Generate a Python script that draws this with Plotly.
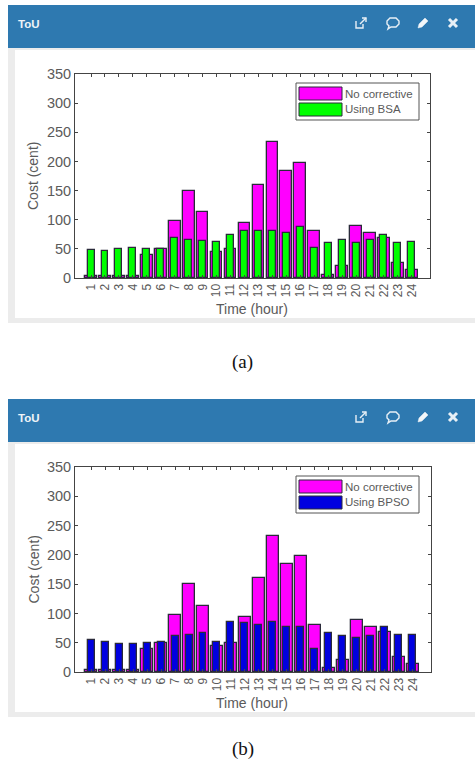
import plotly.graph_objects as go

hours = list(range(1, 25))
no_corrective = [3, 3, 3, 3, 39, 50, 97, 150, 113, 45, 50, 94, 160, 233, 184, 198, 81, 6, 20, 89, 77, 68, 25, 14]
using_bsa = [48, 47, 49, 52, 50, 50, 69, 65, 64, 61, 73, 80, 80, 81, 77, 88, 52, 60, 65, 60, 66, 73, 60, 62]
using_bpso = [54, 52, 48, 48, 50, 52, 62, 64, 66, 52, 85, 83, 80, 86, 77, 76, 40, 66, 62, 58, 61, 76, 63, 64]
y_ticks = [0, 50, 100, 150, 200, 250, 300, 350]

W, H = 475, 773
FONT = "Liberation Sans"
GREY = "#5a5a5a"
DARK = "#2a2a3a"
HEADER = "#2e79b0"
MAGENTA = "#ff00ff"
GREEN = "#00ff00"
BLUE = "#0000e0"


def px(x):
    return x / W


def py(y):
    return 1 - y / H


def rect(x0, y0, x1, y1, fill, line=None, lw=0):
    return dict(type="rect", xref="paper", yref="paper", x0=px(x0), x1=px(x1), y0=py(y1), y1=py(y0),
                fillcolor=fill, line=dict(color=line or fill, width=lw), layer="below")


def path(points, x0, y0, fill="rgba(0,0,0,0)", line="#e8f0f6", lw=1.4, close=True):
    d = "M" + " L".join(f"{px(x0 + a):.5f},{py(y0 + b):.5f}" for a, b in points) + (" Z" if close else "")
    return dict(type="path", xref="paper", yref="paper", path=d, fillcolor=fill,
                line=dict(color=line, width=lw), layer="above")


def note(x, y, text, size=11, color=GREY, family=FONT, anchor="left", angle=0):
    return dict(xref="paper", yref="paper", x=px(x), y=py(y), text=text, showarrow=False, xanchor=anchor,
                yanchor="middle", textangle=angle, font=dict(family=family, size=size, color=color))


fig = go.Figure()
panels = [
    dict(top=5, hdr=48, bottom=323, y350=74, y0=278, right=430, series=using_bsa, name="Using BSA", color=GREEN,
         caption="(a)", cap_y=362, ax=""),
    dict(top=399, hdr=442, bottom=717, y350=467, y0=672, right=431, series=using_bpso, name="Using BPSO", color=BLUE,
         caption="(b)", cap_y=749, ax="2"),
]
shapes, annotations = [], []
for i, p in enumerate(panels):
    ax = p["ax"]
    xa, ya = f"x{ax}", f"y{ax}"
    fig.add_trace(go.Bar(x=hours, y=no_corrective, name="No corrective", width=0.84, xaxis=xa, yaxis=ya,
                         marker=dict(color=MAGENTA, line=dict(color=DARK, width=1.3)), showlegend=False))
    fig.add_trace(go.Bar(x=hours, y=p["series"], name=p["name"], width=0.5, xaxis=xa, yaxis=ya,
                         marker=dict(color=p["color"], line=dict(color=DARK, width=1.3)), showlegend=False))
    common = dict(showgrid=False, zeroline=False, showline=True, linecolor="#444444", linewidth=1, mirror="ticks",
                  ticks="inside", ticklen=3, tickwidth=1, tickcolor="#444444", automargin=False)
    fig.update_layout({
        f"xaxis{ax}": dict(domain=[px(75), px(p["right"])], range=[-0.15, 25.3], tickmode="array", tickvals=hours,
                           ticktext=[str(h) for h in hours], tickangle=-90,
                           tickfont=dict(family=FONT, size=12, color=GREY), anchor=ya, **common),
        f"yaxis{ax}": dict(domain=[py(p["y0"]), py(p["y350"])], range=[0, 350], tickmode="array", tickvals=y_ticks,
                           tickfont=dict(family=FONT, size=14.5, color=GREY), anchor=xa, **common),
    })
    # card
    shapes.append(rect(8, p["hdr"], W, p["bottom"], "#ececec"))
    shapes.append(rect(15, p["hdr"] + 2, W, p["bottom"] - 5, "#ffffff"))
    shapes.append(rect(8, p["top"], W, p["hdr"], HEADER))
    annotations.append(note(16, p["top"] + 19, "<b>ToU</b>", size=11.5, color="#eef4f8"))
    # header icons
    iy = p["top"] + 18
    shapes.append(path([(-5, -2), (-5, 5), (2, 5), (2, 1)], 361, iy, close=False))
    shapes.append(path([(-1, 1), (5, -5)], 361, iy, close=False))
    shapes.append(path([(1, -5), (5, -5), (5, -1)], 361, iy, close=False))
    shapes.append(path([(-6, -2), (-3, -5), (3, -5), (6, -2), (6, 1), (3, 4), (-2, 4), (-5, 6), (-4, 3), (-6, 1)], 393, iy))
    shapes.append(path([(-5, 5), (-4, 1), (2, -5), (5, -2), (-1, 4)], 423, iy, fill="#f2f6f9", lw=0.5))
    shapes.append(path([(-4, -4), (4, 4)], 453, iy, lw=3, close=False))
    shapes.append(path([(-4, 4), (4, -4)], 453, iy, lw=3, close=False))
    # axis titles
    annotations.append(note(252, p["y0"] + 31, "Time (hour)", size=14, anchor="center"))
    annotations.append(note(33, (p["y0"] + p["y350"]) / 2, "Cost (cent)", size=14, anchor="center", angle=-90))
    annotations.append(note(243, p["cap_y"], p["caption"], size=19, color="#111111", family="Liberation Serif", anchor="center"))
    # legend key
    ly = p["y350"] + 9
    shapes.append(dict(rect(296, ly, 419, ly + 37, "#ffffff", "#555555", 1), layer="above"))
    shapes.append(dict(rect(299, ly + 4, 342, ly + 17, MAGENTA, DARK, 1), layer="above"))
    shapes.append(dict(rect(299, ly + 20, 342, ly + 33, p["color"], DARK, 1), layer="above"))
    annotations.append(note(343, ly + 11, "No corrective", size=11.5))
    annotations.append(note(343, ly + 26, p["name"], size=11.5))

fig.update_layout(width=W, height=H, margin=dict(l=0, r=0, t=0, b=0, autoexpand=False), barmode="overlay", bargap=0,
                  paper_bgcolor="#ffffff", plot_bgcolor="rgba(0,0,0,0)", shapes=shapes, annotations=annotations,
                  showlegend=False)
fig.write_html("out.html", config=dict(displayModeBar=False),
               post_script="document.body.style.margin='0';document.body.style.overflow='hidden';")
